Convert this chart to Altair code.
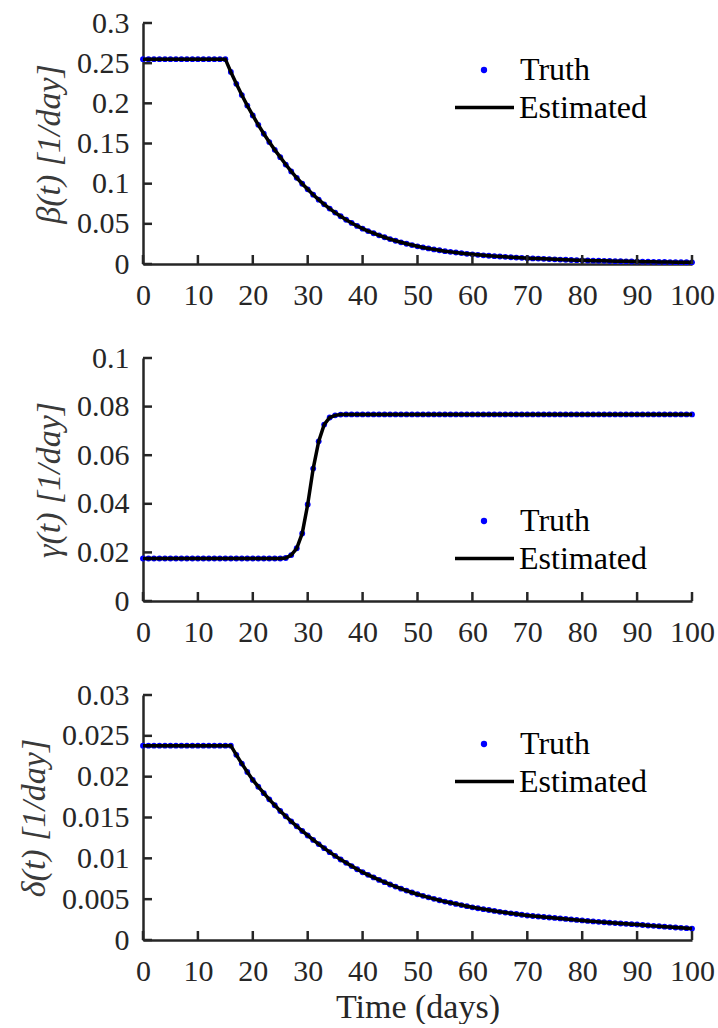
import altair as alt
import pandas as pd

# ---------------- data ----------------
t_days = list(range(101))

beta_vals = [0.255] * 16 + [
    0.2391, 0.2243, 0.2103, 0.1972, 0.1850,
    0.1732, 0.1621, 0.1518, 0.1421, 0.1330,
    0.1238, 0.1153, 0.1073, 0.0999, 0.0930,
    0.0863, 0.0801, 0.0743, 0.0690, 0.0640,
    0.0594, 0.0551, 0.0511, 0.0474, 0.0440,
    0.0410, 0.0383, 0.0357, 0.0333, 0.0310,
    0.0289, 0.0270, 0.0252, 0.0236, 0.0220,
    0.0206, 0.0194, 0.0182, 0.0171, 0.0160,
    0.0151, 0.0143, 0.0135, 0.0127, 0.0120,
    0.0114, 0.0108, 0.0103, 0.0098, 0.0093,
    0.0089, 0.0084, 0.0080, 0.0077, 0.0073,
    0.0070, 0.0067, 0.0064, 0.0061, 0.0058,
    0.0055, 0.0053, 0.0050, 0.0048, 0.0046,
    0.0044, 0.0042, 0.0040, 0.0039, 0.0037,
    0.0035, 0.0034, 0.0033, 0.0031, 0.0030,
    0.0029, 0.0028, 0.0027, 0.0026, 0.0025,
    0.0024, 0.0023, 0.0023, 0.0022, 0.0021,
]

gamma_vals = [0.0175] * 26 + [
    0.0177, 0.0189, 0.0217, 0.0278, 0.0397,
    0.0545, 0.0657, 0.0726, 0.0755, 0.0764, 0.0767,
] + [0.0768] * 64

delta_vals = [0.0238] * 17 + [
    0.02267, 0.02160, 0.02057, 0.01960,
    0.01877, 0.01798, 0.01722, 0.01650, 0.01580,
    0.01515, 0.01452, 0.01393, 0.01335, 0.01280,
    0.01226, 0.01174, 0.01124, 0.01076, 0.01030,
    0.00986, 0.00945, 0.00905, 0.00866, 0.00830,
    0.00798, 0.00766, 0.00736, 0.00708, 0.00680,
    0.00654, 0.00629, 0.00605, 0.00582, 0.00560,
    0.00541, 0.00522, 0.00504, 0.00487, 0.00470,
    0.00456, 0.00442, 0.00428, 0.00414, 0.00400,
    0.00389, 0.00378, 0.00367, 0.00356, 0.00345,
    0.00336, 0.00327, 0.00318, 0.00309, 0.00300,
    0.00294, 0.00288, 0.00282, 0.00276, 0.00270,
    0.00264, 0.00258, 0.00252, 0.00246, 0.00240,
    0.00234, 0.00228, 0.00222, 0.00217, 0.00212,
    0.00207, 0.00202, 0.00198, 0.00194, 0.00190,
    0.00184, 0.00178, 0.00173, 0.00168, 0.00163,
    0.00158, 0.00153, 0.00149, 0.00145, 0.00140,
]

x_ticks = [0, 10, 20, 30, 40, 50, 60, 70, 80, 90, 100]
beta_ticks = [0, 0.05, 0.1, 0.15, 0.2, 0.25, 0.3]
gamma_ticks = [0, 0.02, 0.04, 0.06, 0.08, 0.1]
delta_ticks = [0, 0.005, 0.01, 0.015, 0.02, 0.025, 0.03]

series_names = ["Truth", "Estimated"]
y_titles = ["β(t) [1/day]", "γ(t) [1/day]", "δ(t) [1/day]"]
x_title = "Time (days)"

# ---------------- styling ----------------
FONT = "Liberation Serif"
AX = "#262626"
W = 549


def panel(vals, yticks, ytitle, height, leg_y, show_xtitle):
    ymax = yticks[-1]
    df = pd.DataFrame({"t": t_days, "v": vals,
                       "truth": series_names[0], "est": series_names[1]})
    xscale = alt.Scale(domain=[0, 100], nice=False, zero=False)
    yscale = alt.Scale(domain=[0, ymax], nice=False, zero=False)

    xkw = dict(values=x_ticks, ticks=False, tickSize=0, grid=False,
               domainColor=AX, domainWidth=2.5, labelFont=FONT,
               labelFontSize=30, labelColor=AX, labelPadding=16,
               labelFlush=False, format="d")
    if show_xtitle:
        xkw.update(title=x_title, titleFont=FONT, titleFontSize=34,
                   titleFontWeight="normal", titleColor=AX, titlePadding=4)
    else:
        xkw.update(title="")
    xaxis = alt.Axis(**xkw)
    yaxis = alt.Axis(values=yticks, ticks=False, tickSize=0, grid=False,
                     domainColor=AX, domainWidth=2.5, labelFont=FONT,
                     labelFontSize=30, labelColor=AX, labelPadding=14,
                     labelFlush=False, format="~g",
                     title=ytitle, titleFont=FONT, titleFontSize=34,
                     titleFontWeight="normal", titleFontStyle="italic",
                     titleColor="#3a3a3a", titlePadding=10)

    X = alt.X("t:Q", scale=xscale, axis=xaxis)
    Y = alt.Y("v:Q", scale=yscale, axis=yaxis)

    dots = alt.Chart(df).mark_circle(size=34, opacity=1).encode(
        x=X, y=Y,
        color=alt.Color("truth:N",
                        scale=alt.Scale(domain=[series_names[0]], range=["#0000ff"]),
                        legend=alt.Legend(title=None, orient="none",
                                          legendX=325, legendY=leg_y,
                                          symbolType="circle", symbolSize=40,
                                          symbolStrokeWidth=0,
                                          labelFont=FONT, labelFontSize=32,
                                          labelColor="#000000", labelOffset=20)),
    )
    line = alt.Chart(df).mark_line(strokeWidth=3.5).encode(
        x="t:Q", y="v:Q",
        stroke=alt.Stroke("est:N",
                          scale=alt.Scale(domain=[series_names[1]], range=["#000000"]),
                          legend=alt.Legend(title=None, orient="none",
                                            legendX=310, legendY=leg_y + 22,
                                            symbolType="stroke", symbolSize=3481,
                                            symbolStrokeWidth=3.5,
                                            labelFont=FONT, labelFontSize=32,
                                            labelColor="#000000", labelOffset=3)),
    )
    xt = alt.Chart(pd.DataFrame({"t": x_ticks})).mark_tick(
        orient="vertical", size=9, thickness=2.5, color=AX, opacity=1, yOffset=-4.5
    ).encode(x="t:Q", y=alt.datum(0))
    yt = alt.Chart(pd.DataFrame({"v": yticks})).mark_tick(
        orient="horizontal", size=9, thickness=2.5, color=AX, opacity=1, xOffset=4.5
    ).encode(y="v:Q", x=alt.datum(0))

    return alt.layer(dots, line, xt, yt).properties(width=W, height=height)


p1 = panel(beta_vals, beta_ticks, y_titles[0], 241, 31, False)
p2 = panel(gamma_vals, gamma_ticks, y_titles[1], 243, 147, False)
p3 = panel(delta_vals, delta_ticks, y_titles[2], 245, 33, True)

chart = alt.VConcatChart(vconcat=[p1, p2, p3], spacing=94, bounds="flush").resolve_scale(
    color="independent", stroke="independent").resolve_legend(
    color="independent", stroke="independent").properties(
    padding={"left": 17, "top": 8, "right": 0, "bottom": 0},
    background="#ffffff",
).configure_view(stroke=None)

chart.save("out.html", embed_options={"renderer": "svg", "actions": False})
